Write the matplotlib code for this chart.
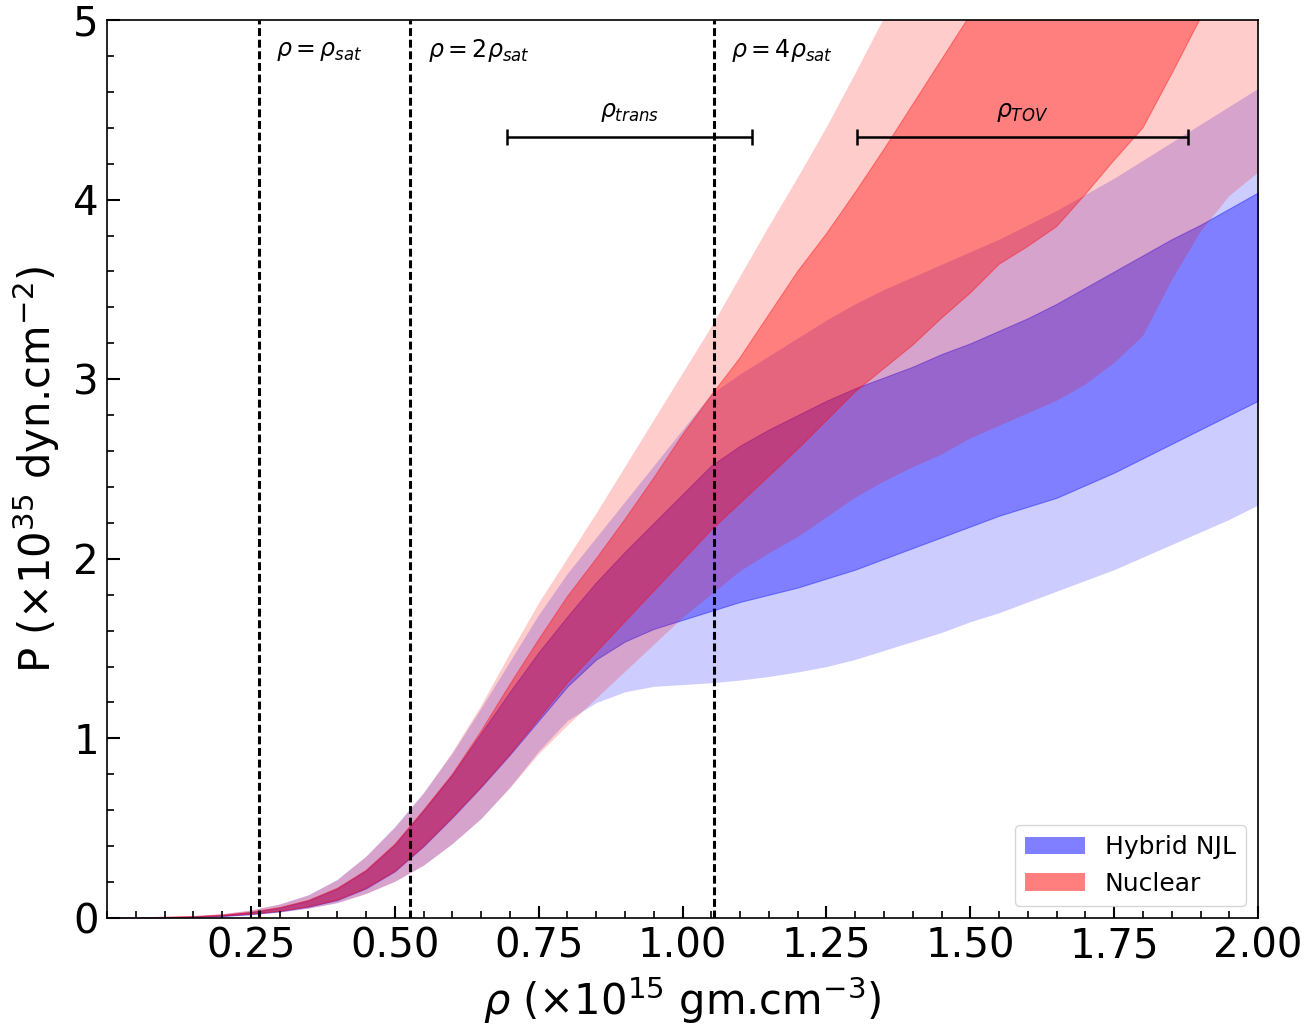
import numpy as np
import matplotlib.pyplot as plt
from matplotlib.patches import Patch
from matplotlib.ticker import MultipleLocator

# density grid (x 10^15 g/cm^3)
rho = [0.0, 0.05, 0.1, 0.15, 0.2, 0.25, 0.3, 0.35, 0.4, 0.45,
       0.5, 0.55, 0.6, 0.65, 0.7, 0.75, 0.8, 0.85, 0.9, 0.95,
       1.0, 1.05, 1.1, 1.15, 1.2, 1.25, 1.3, 1.35, 1.4, 1.45,
       1.5, 1.55, 1.6, 1.65, 1.7, 1.75, 1.8, 1.85, 1.9, 1.95, 2.0]

# nuclear bands (outer = wide band, inner = narrow band)
nuc_outer_hi = [0, .002, .005, .011, .022, .042, .075, .125, .21, .34,
                .50, .69, .92, 1.18, 1.47, 1.75, 2.0, 2.25, 2.51, 2.77,
                3.03, 3.29, 3.57, 3.85, 4.12, 4.40, 4.70, 5.01, 5.3, 5.6,
                5.9, 6.2, 6.5, 6.8, 7.1, 7.4, 7.7, 8.0, 8.3, 8.6, 8.9]
nuc_inner_hi = [0, .001, .004, .008, .016, .032, .058, .098, .165, .265,
                .41, .60, .80, 1.04, 1.30, 1.55, 1.79, 2.00, 2.22, 2.45,
                2.69, 2.91, 3.12, 3.36, 3.60, 3.81, 4.04, 4.28, 4.53, 4.78,
                5.03, 5.28, 5.53, 5.78, 6.03, 6.28, 6.53, 6.78, 7.03, 7.28, 7.53]
nuc_inner_lo = [0, .001, .003, .006, .011, .022, .038, .063, .10, .165,
                .26, .40, .56, .73, .91, 1.11, 1.31, 1.48, 1.65, 1.82,
                1.99, 2.16, 2.31, 2.46, 2.61, 2.77, 2.93, 3.06, 3.19, 3.34,
                3.48, 3.64, 3.74, 3.85, 4.03, 4.22, 4.40, 4.70, 5.01, 5.3, 5.6]
nuc_outer_lo = [0, .001, .002, .004, .008, .016, .031, .052, .082, .133,
                .20, .29, .41, .55, .72, .91, 1.07, 1.22, 1.37, 1.52,
                1.67, 1.80, 1.93, 2.03, 2.12, 2.23, 2.34, 2.43, 2.51, 2.58,
                2.67, 2.74, 2.81, 2.88, 2.97, 3.09, 3.24, 3.55, 3.82, 4.02, 4.15]

# hybrid NJL bands
hyb_outer_hi = [0, .002, .005, .011, .023, .044, .078, .13, .215, .345,
                .51, .70, .92, 1.17, 1.43, 1.69, 1.92, 2.12, 2.32, 2.52,
                2.72, 2.92, 3.03, 3.13, 3.23, 3.33, 3.42, 3.50, 3.57, 3.64,
                3.71, 3.78, 3.86, 3.94, 4.03, 4.12, 4.22, 4.32, 4.42, 4.52, 4.62]
hyb_inner_hi = [0, .001, .004, .008, .016, .032, .058, .098, .165, .265,
                .41, .60, .80, 1.03, 1.26, 1.48, 1.68, 1.87, 2.04, 2.20,
                2.36, 2.52, 2.63, 2.72, 2.80, 2.88, 2.95, 3.01, 3.07, 3.14,
                3.20, 3.27, 3.34, 3.42, 3.51, 3.60, 3.69, 3.78, 3.86, 3.95, 4.04]
hyb_inner_lo = [0, .001, .003, .006, .011, .022, .038, .063, .10, .165,
                .26, .40, .56, .73, .91, 1.10, 1.29, 1.44, 1.54, 1.61,
                1.66, 1.71, 1.76, 1.80, 1.84, 1.89, 1.94, 2.00, 2.06, 2.12,
                2.18, 2.24, 2.29, 2.34, 2.41, 2.48, 2.56, 2.64, 2.72, 2.80, 2.88]
hyb_outer_lo = [0, .001, .003, .005, .009, .018, .033, .055, .086, .137,
                .205, .295, .415, .555, .73, .93, 1.10, 1.20, 1.26, 1.29,
                1.30, 1.31, 1.325, 1.345, 1.37, 1.40, 1.44, 1.49, 1.54, 1.59,
                1.65, 1.70, 1.76, 1.82, 1.88, 1.94, 2.01, 2.08, 2.15, 2.22, 2.30]

rho_sat = 0.2635
sat_mult = [1, 2, 4]
sat_labels = [r'$\rho = \rho_{sat}$', r'$\rho = 2\rho_{sat}$', r'$\rho = 4\rho_{sat}$']

rho_trans_range = [0.695, 1.12]
rho_tov_range = [1.303, 1.878]
range_y = 4.35

fig = plt.figure(figsize=(13.12, 10.28), dpi=100)
ax = fig.add_axes([0.0816, 0.107, 0.8773, 0.8735])

# outer alpha 0.2, inner drawn so that overlap gives 0.5
ax.fill_between(rho, hyb_outer_lo, hyb_outer_hi, color='blue', alpha=0.2, lw=0)
ax.fill_between(rho, hyb_inner_lo, hyb_inner_hi, color='blue', alpha=0.375, lw=0.8)
ax.fill_between(rho, nuc_outer_lo, nuc_outer_hi, color='red', alpha=0.2, lw=0)
ax.fill_between(rho, nuc_inner_lo, nuc_inner_hi, color='red', alpha=0.375, lw=0.8)

for k, lab in zip(sat_mult, sat_labels):
    ax.axvline(k * rho_sat, color='k', ls='--', lw=2.2, dashes=(2.6, 1.2))
    ax.text(k * rho_sat + 0.03, 4.83, lab, fontsize=17, va='center')

for rng, lab in [(rho_trans_range, r'$\rho_{trans}$'), (rho_tov_range, r'$\rho_{TOV}$')]:
    c = 0.5 * (rng[0] + rng[1])
    ax.errorbar([c], [range_y], xerr=[[c - rng[0]], [rng[1] - c]], color='k',
                lw=1.8, capsize=6, capthick=1.8)
    ax.text(c, range_y + 0.07, lab, fontsize=17, ha='center', va='bottom')

ax.set_xlim(0, 2)
ax.set_ylim(0, 5)
ax.set_xticks(np.arange(0.25, 2.01, 0.25))
ax.set_yticks(range(6))
ax.xaxis.set_minor_locator(MultipleLocator(0.05))
ax.yaxis.set_minor_locator(MultipleLocator(0.2))
ax.tick_params(which='both', direction='in', labelsize=29, pad=6)
ax.tick_params(which='major', length=9, width=1.5)
ax.tick_params(which='minor', length=5, width=1.2)
for s in ax.spines.values():
    s.set_linewidth(1.2)

ax.set_xlabel(r'$\rho$ (×10$^{15}$ gm.cm$^{-3}$)', fontsize=30, labelpad=6)
ax.set_ylabel(r'P (×10$^{35}$ dyn.cm$^{-2}$)', fontsize=30, labelpad=8)

handles = [Patch(facecolor='blue', alpha=0.5, label='Hybrid NJL'),
           Patch(facecolor='red', alpha=0.5, label='Nuclear')]
ax.legend(handles=handles, loc='lower right', fontsize=18, handlelength=2.4)

fig.savefig('out.png', dpi=100)
